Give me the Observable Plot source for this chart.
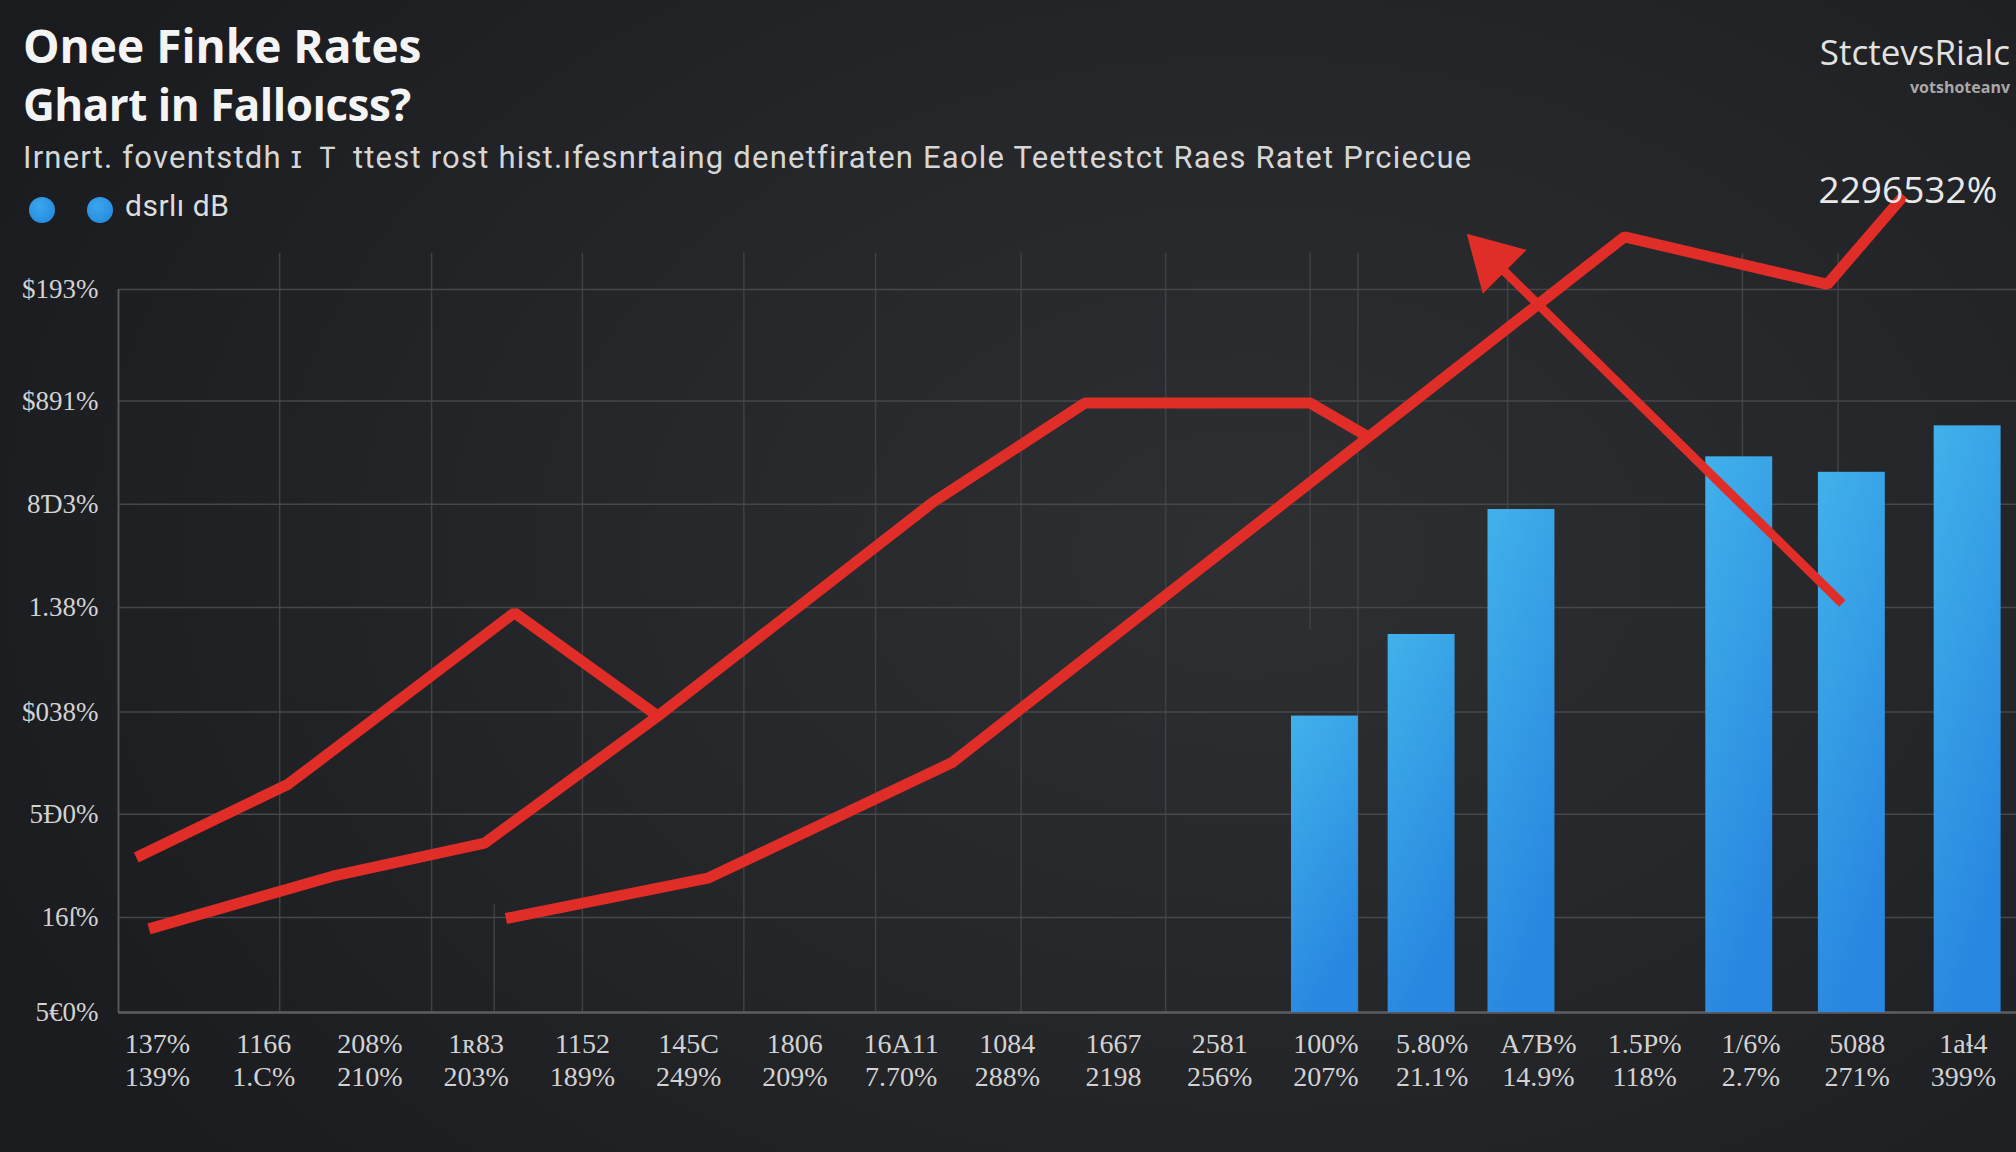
<!DOCTYPE html>
<html><head><meta charset="utf-8">
<script src="https://cdn.jsdelivr.net/npm/d3@7"></script>
<script src="https://cdn.jsdelivr.net/npm/@observablehq/plot@0.6"></script>
<style>
html,body{margin:0;padding:0;width:2016px;height:1152px;overflow:hidden;}
body{background:radial-gradient(ellipse 70% 85% at 62% 48%, #2e2f33 0%, #252629 50%, #1a1b1e 100%);position:relative;font-family:"Open Sans",sans-serif;}
.abs{position:absolute;white-space:nowrap;line-height:1;}
.dot{position:absolute;width:26px;height:26px;border-radius:50%;background:radial-gradient(circle at 40% 35%, #3aa6ec, #2184dc);}
#chart{position:absolute;left:0;top:180px;}
#chart svg{overflow:visible;}
</style></head><body>
<div class="abs" id="t1" style="left:23px;top:22px;font-size:46px;font-weight:700;color:#f4f4f4"></div>
<div class="abs" id="t2" style="left:23px;top:82px;font-size:44px;font-weight:700;color:#f4f4f4;letter-spacing:-0.5px"></div>
<div class="abs" id="sub" style="left:23px;top:142px;font-family:Roboto,sans-serif;font-size:31px;letter-spacing:1.2px;color:#d6d6d6"></div>
<div class="dot" style="left:29px;top:197px"></div>
<div class="dot" style="left:87px;top:197px"></div>
<div class="abs" id="leg" style="left:125px;top:191px;font-family:Roboto,sans-serif;font-size:30px;letter-spacing:0.5px;color:#dcdcdc"></div>
<div class="abs" id="brand" style="right:6px;top:34px;font-size:35px;line-height:1;color:#e2e2e2"></div>
<div class="abs" id="brand2" style="right:6px;top:79px;font-size:16px;line-height:1;font-weight:700;color:#a8a8a8"></div>
<div id="chart"></div>
<script>
// ---- texts
const titleLine1 = "Onee Finke Rates";
const titleLine2 = "Ghart in Falloıcss?";
const subtitle = "Irnert. foventstdh ɪ Ｔ ttest rost hist.ıfesnrtaing denetfiraten Eaole Teettestct Raes Ratet Prciecue";
const legendLabel = "dsrlı dB";
const brand = "StctevsRialc";
const brandSub = "votshoteanv";
const annotLabel = "2296532%";

// ---- axes
const yTicks = [0, 0.92, 1.92, 2.91, 3.92, 4.92, 5.92, 7];
const yLabels = ["5€0%", "16ſ%", "5Ð0%", "$038%", "1.38%", "8Ɗ3%", "$891%", "$193%"];
const xIndex = d3.range(18);
const xTop = ["137%", "1166", "208%", "1ʀ83", "1152", "145C", "1806", "16Α11", "1084", "1667", "2581", "100%", "5.80%", "A7B%", "1.5P%", "1/6%", "5088", "1aɬ4"];
const xBottom = ["139%", "1.C%", "210%", "203%", "189%", "249%", "209%", "7.70%", "288%", "2198", "256%", "207%", "21.1%", "14.9%", "118%", "2.7%", "271%", "399%"];
const xGrid = [1.15, 2.58, 4.0, 5.52, 6.76, 8.13, 9.49, 11.3, 12.71, 14.92, 15.82];
const xGridUpper = [10.85];
const xGridLower = [3.17];

// ---- series
const line1X = [-0.20, 1.23, 3.36, 4.71];
const line1Y = [1.50, 2.21, 3.87, 2.87];
const line2X = [-0.08, 1.65, 3.08, 4.71, 7.30, 8.73, 10.85, 11.42];
const line2Y = [0.81, 1.32, 1.64, 2.87, 4.94, 5.90, 5.90, 5.56];
const line3X = [3.28, 5.18, 7.48, 13.81, 15.72, 16.44];
const line3Y = [0.91, 1.30, 2.42, 7.51, 7.05, 7.91];
const arrowX = [15.86, 12.33]; // tail, head
const arrowY = [3.96, 7.53];
const barX = [10.99, 11.9, 12.84, 14.89, 15.95, 17.04];
const barY = [2.87, 3.66, 4.87, 5.38, 5.23, 5.68];

document.getElementById("t1").textContent = titleLine1;
document.getElementById("t2").textContent = titleLine2;
document.getElementById("sub").textContent = subtitle;
document.getElementById("leg").textContent = legendLabel;
document.getElementById("brand").textContent = brand;
document.getElementById("brand2").textContent = brandSub;

const lines = [
  ...line1X.map((x, i) => ({s: "a", x, y: line1Y[i]})),
  ...line2X.map((x, i) => ({s: "b", x, y: line2Y[i]})),
  ...line3X.map((x, i) => ({s: "c", x, y: line3Y[i]}))
];
const bars = barX.map((x, i) => ({x, y: barY[i]}));
const t = 0.066;
const head = [{x: arrowX[1] + (arrowX[0] - arrowX[1]) * t, y: arrowY[1] + (arrowY[0] - arrowY[1]) * t}];
const shaft = [{x1: arrowX[0], y1: arrowY[0], x2: head[0].x, y2: head[0].y}];
const annot = [{x: line3X[line3X.length - 1], y: line3Y[line3Y.length - 1], t: annotLabel}];

const xDomain = [-0.367, 17.5];
const red = "#e02d27";
const chart = Plot.plot({
  width: 2016, height: 972,
  marginLeft: 118, marginRight: 0, marginTop: 109, marginBottom: 140,
  x: {domain: xDomain, axis: null},
  y: {domain: [0, 7], axis: null},
  style: {background: "transparent", overflow: "visible"},
  marks: [
    Plot.ruleX(xGrid, {y1: 0, y2: 7.35, stroke: "#404145", strokeWidth: 1.5}),
    Plot.ruleX(xGridUpper, {y1: 3.7, y2: 7.35, stroke: "#404145", strokeWidth: 1.5}),
    Plot.ruleX(xGridLower, {y1: 0, y2: 1.04, stroke: "#404145", strokeWidth: 1.5}),
    Plot.ruleY(yTicks, {x1: xDomain[0], x2: xDomain[1], stroke: "#46474b", strokeWidth: 1.5}),
    Plot.ruleX([xDomain[0]], {y1: 0, y2: 7, stroke: "#56575b", strokeWidth: 2}),
    Plot.ruleY([0], {x1: xDomain[0], x2: xDomain[1], stroke: "#5b5c60", strokeWidth: 2.5}),
    Plot.rect(bars, {x1: d => d.x - 0.315, x2: d => d.x + 0.315, y1: 0, y2: "y", fill: "url(#barGrad)"}),
    Plot.line(lines, {x: "x", y: "y", z: "s", stroke: red, strokeWidth: 11, strokeLinejoin: "miter", strokeLinecap: "butt"}),
    Plot.link(shaft, {x1: "x1", y1: "y1", x2: "x2", y2: "y2", stroke: red, strokeWidth: 9}),
    Plot.dot(head, {x: "x", y: "y", symbol: "triangle", r: 23, rotate: -45, fill: red, stroke: "none"}),
    Plot.text(annot, {x: "x", y: "y", text: "t", fontSize: 37, fontFamily: "Open Sans", fill: "#e8e8e8", dy: -4, dx: 4}),
    Plot.axisY(yTicks, {tickSize: 0, tickPadding: 20, tickFormat: d => yLabels[yTicks.indexOf(d)], fontSize: 27, fontFamily: "Liberation Serif", fill: "#d2d2d2", label: null}),
    Plot.axisX(xIndex, {tickSize: 0, tickPadding: 18, tickFormat: d => xTop[d] + "\n" + xBottom[d], fontSize: 28, lineHeight: 1.15, fontFamily: "Liberation Serif", fill: "#d2d2d2", label: null})
  ]
});
const svgNS = "http://www.w3.org/2000/svg";
const defs = document.createElementNS(svgNS, "defs");
defs.innerHTML = '<linearGradient id="barGrad" x1="0" y1="0" x2="0.35" y2="1"><stop offset="0" stop-color="#41b1ea"/><stop offset="1" stop-color="#2887e0"/></linearGradient>';
chart.insertBefore(defs, chart.firstChild);
document.getElementById("chart").appendChild(chart);
</script>
</body></html>
